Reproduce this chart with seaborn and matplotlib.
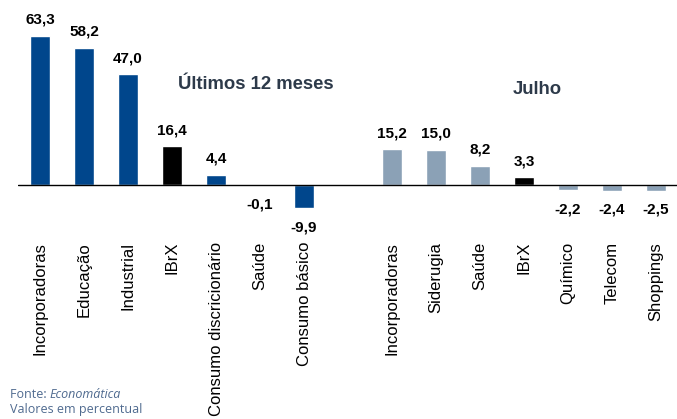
import numpy as np
import pandas as pd
import matplotlib
matplotlib.use('Agg')
import matplotlib.pyplot as plt
import seaborn as sns

# dados
setores_12m = ['Incorporadoras', 'Educação', 'Industrial', 'IBrX',
               'Consumo discricionário', 'Saúde', 'Consumo básico']
valores_12m = [63.3, 58.2, 47.0, 16.4, 4.4, -0.1, -9.9]
setores_jul = ['Incorporadoras', 'Siderugia', 'Saúde', 'IBrX',
               'Químico', 'Telecom', 'Shoppings']
valores_jul = [15.2, 15.0, 8.2, 3.3, -2.2, -2.4, -2.5]

AZUL = '#00468c'
CINZA = '#8ba1b6'
PRETO = '#000000'

sns.set_theme(style='white')
plt.rcParams['font.family'] = ['Liberation Sans', 'DejaVu Sans']

# posições: grupo 1 em 0..6, espaço vazio em 7, grupo 2 em 8..14
pos_12m = list(range(len(setores_12m)))
pos_jul = [p + len(setores_12m) + 1 for p in range(len(setores_jul))]

df = pd.DataFrame({
    'pos': pos_12m + pos_jul,
    'setor': setores_12m + setores_jul,
    'valor': valores_12m + valores_jul,
})
cores = [PRETO if s == 'IBrX' else AZUL for s in setores_12m] + \
        [PRETO if s == 'IBrX' else CINZA for s in setores_jul]
paleta = dict(zip(df['pos'], cores))

fig = plt.figure(figsize=(6.77, 4.19), dpi=100)
ax = fig.add_axes([0.0266, 0, 0.975, 1])

sns.barplot(data=df, x='pos', y='valor', hue='pos', palette=paleta,
            native_scale=True, width=0.47, dodge=False, legend=False,
            saturation=1, ax=ax)

ax.set_xlim(-0.5, 14.5)
ax.set_ylim(-99.2, 78.4)
ax.axhline(0, color='black', lw=1.0, zorder=3)
ax.set_axis_off()

px = (78.4 + 99.2) / 419.0  # unidades por pixel

for p, v in zip(df['pos'], df['valor']):
    txt = f'{v:.1f}'.replace('.', ',')
    if v >= 0:
        ax.text(p, v + 9 * px, txt, ha='center', va='bottom',
                fontsize=11, fontweight='bold', color='black')
    else:
        ax.text(p, v - 12 * px, txt, ha='center', va='top',
                fontsize=11, fontweight='bold', color='black')

for p, s in zip(df['pos'], df['setor']):
    ax.text(p, -57 * px, s, rotation=90, ha='center', va='top',
            fontsize=12, color='black')

ax.text(4.9, 100 * px, 'Últimos 12 meses', ha='center', va='center',
        fontsize=13.3, fontweight='bold', color='#2d3a4a')
ax.text(11.3, 95 * px, 'Julho', ha='center', va='center',
        fontsize=13.3, fontweight='bold', color='#2d3a4a')

fonte = ['Open Sans', 'DejaVu Sans']
t = fig.text(10 / 677, 1 - 398 / 419, 'Fonte: ', ha='left', va='baseline',
             fontsize=9, color='#4f6a8f', family=fonte)
fig.text(10 / 677, 1 - 413 / 419, 'Valores em percentual', ha='left',
         va='baseline', fontsize=9, color='#4f6a8f', family=fonte)
ax.annotate('Economática', xy=(1, 0), xycoords=t, va='bottom', ha='left',
            fontsize=9, color='#4f6a8f', style='italic',
            family=fonte, annotation_clip=False)

fig.savefig('out.png', dpi=100)
